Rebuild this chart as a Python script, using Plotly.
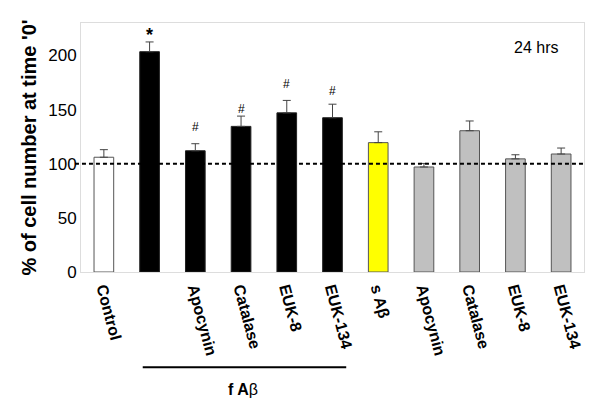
import plotly.graph_objects as go

categories = ["Control", "", "Apocynin", "Catalase", "EUK-8", "EUK-134",
              "s A\u03b2", "Apocynin", "Catalase", "EUK-8", "EUK-134"]
values = [106, 203.5, 112, 134.5, 147, 142.5, 119.5, 97, 130.5, 104.5, 109]
errors = [7, 9, 6.5, 9.5, 11.5, 12.5, 10, 3.3, 9, 3.8, 5.5]
colors = ["#ffffff", "#000000", "#000000", "#000000", "#000000", "#000000",
          "#ffff00", "#c0c0c0", "#c0c0c0", "#c0c0c0", "#c0c0c0"]
outlines = ["#555555", "#222222", "#222222", "#222222", "#222222", "#222222",
            "#555555", "#555555", "#555555", "#555555", "#555555"]
marks = ["", "*", "#", "#", "#", "#", "", "", "", "", ""]
mark_y = [0, 219, 134, 151, 174, 167.5, 0, 0, 0, 0, 0]
y_ticks = [0, 50, 100, 150, 200]

xpos = list(range(len(categories)))
FONT = "Arial, Liberation Sans"

fig = go.Figure()
fig.add_trace(go.Bar(
    x=xpos, y=values, width=0.43,
    marker=dict(color=colors, line=dict(color=outlines, width=1)),
    error_y=dict(type="data", array=errors, arrayminus=[0]*len(errors),
                 symmetric=False, color="#444444", thickness=1, width=4),
    showlegend=False,
))

for i, (m, my) in enumerate(zip(marks, mark_y)):
    if m:
        fig.add_annotation(x=i, y=my, text=f"<b>{m}</b>" if m == "*" else m,
                           showarrow=False,
                           font=dict(family=FONT, size=18 if m == "*" else 12,
                                     color="black"))

fig.add_shape(type="line", xref="paper", x0=-0.012, x1=1, yref="y", y0=100, y1=100,
              line=dict(color="black", width=2, dash="4px,3px"))

# f Abeta bracket
fig.add_shape(type="line", xref="x", x0=0.85, x1=5.3, yref="paper", y0=-0.383, y1=-0.383,
              line=dict(color="black", width=2))
fig.add_annotation(x=3.05, xref="x", y=-0.43, yref="paper", yanchor="top",
                   text="<b>f A</b>\u03b2", showarrow=False,
                   font=dict(family=FONT, size=16, color="black"))

fig.add_annotation(x=0.905, xref="paper", y=0.9, yref="paper", text="24 hrs",
                   xanchor="center", yanchor="middle", showarrow=False,
                   font=dict(family=FONT, size=16, color="black"))

fig.update_layout(
    width=584, height=392,
    margin=dict(l=73, r=8, t=15, b=128),
    plot_bgcolor="white", paper_bgcolor="white",
    font=dict(family=FONT, color="black"),
)
fig.update_xaxes(
    range=[-0.5, 10.5], tickvals=xpos,
    ticktext=[f"<b>{c}</b>" for c in categories],
    tickangle=75, tickfont=dict(size=16, color="black"),
    showline=True, linecolor="#dddddd", mirror=True, showgrid=False,
    ticks="", zeroline=False, automargin=False,
)
fig.update_yaxes(
    range=[0, 230], tickvals=y_ticks, tickfont=dict(size=17, color="black"),
    showline=True, linecolor="#dddddd", mirror=True, showgrid=False,
    ticks="", zeroline=False, automargin=False,
    title=dict(text="<b>% of cell number at time '0'</b>", font=dict(size=20), standoff=6),
)

fig.write_html("out.html")
